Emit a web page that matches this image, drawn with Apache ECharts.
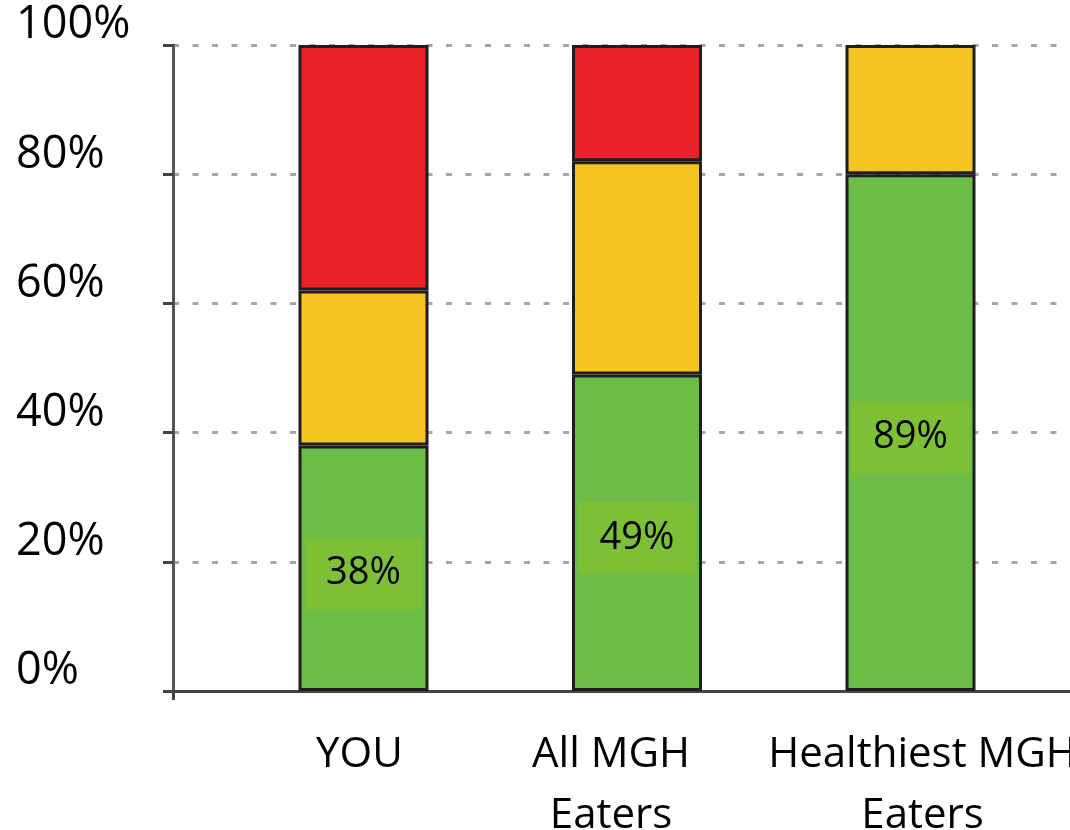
<!DOCTYPE html>
<html>
<head>
<meta charset="utf-8">
<script src="https://cdn.jsdelivr.net/npm/echarts@6/dist/echarts.min.js"></script>
<style>
  html, body { margin: 0; padding: 0; background: #ffffff; }
  #chart { width: 1070px; height: 830px; }
</style>
</head>
<body>
<div id="chart"></div>
<script>
// Groups compared
const categories = ['YOU', 'All MGH\nEaters', 'Healthiest MGH\nEaters'];
// Share of meals per colour rating (percent, stacked bottom to top)
const greenShare  = [38, 49, 80];
const yellowShare = [24, 33, 20];
const redShare    = [38, 18, 0];
// Score printed on each green segment
const scores = [38, 49, 89];
// Y axis ticks
const yTicks = [0, 20, 40, 60, 80, 100];

const FONT = 'Open Sans';
const GREEN = '#6cbd45';
const YELLOW = '#f5c423';
const RED = '#ec2028';
const OUTLINE = '#1e1e1e';

// small horizontal nudges for the category captions
const captionShift = [-4, -26, 12];

const chart = echarts.init(document.getElementById('chart'), null, { renderer: 'canvas' });

const barItem = (color) => ({ color: color, borderColor: OUTLINE, borderWidth: 3 });

const option = {
  backgroundColor: '#ffffff',
  animation: false,
  grid: [
    // frame: axis lines, ticks and dotted guides
    { left: 173, right: -40, top: 45, bottom: 139, outerBoundsMode: 'none', containLabel: false },
    // bars
    { left: 226.75, right: 22.75, top: 45, bottom: 139, outerBoundsMode: 'none', containLabel: false }
  ],
  xAxis: [
    {
      gridIndex: 0, type: 'value', min: 0, max: 1, interval: 1,
      axisLine: { show: true, lineStyle: { color: '#444', width: 3 } },
      axisTick: { show: true, length: 9, lineStyle: { color: '#444', width: 3 } },
      axisLabel: { show: false },
      splitLine: { show: false }
    },
    {
      gridIndex: 1, type: 'category',
      data: categories.map((c, i) => ({
        value: c,
        textStyle: {
          padding: captionShift[i] < 0 ? [0, -2 * captionShift[i], 0, 0] : [0, 0, 0, 2 * captionShift[i]]
        }
      })),
      axisLine: { show: false },
      axisTick: { show: false },
      axisLabel: {
        interval: 0, margin: 34,
        fontFamily: FONT, fontSize: 42, lineHeight: 61, color: '#000'
      }
    }
  ],
  yAxis: [
    {
      gridIndex: 0, type: 'value', min: yTicks[0], max: yTicks[yTicks.length - 1],
      interval: yTicks[1] - yTicks[0],
      axisLine: { show: true, lineStyle: { color: '#555', width: 3 } },
      axisTick: { show: true, length: 10, lineStyle: { color: '#444', width: 3 } },
      axisLabel: {
        formatter: '{value}%', align: 'left', verticalAlign: 'bottom', margin: 157,
        fontFamily: FONT, fontSize: 45, lineHeight: 39, color: '#000'
      },
      splitLine: { show: true, lineStyle: { color: '#a6a6a6', width: 3, type: [6, 13.5] } }
    },
    {
      gridIndex: 1, type: 'value', min: 0, max: 100, show: false
    }
  ],
  series: [
    {
      name: 'Green', type: 'bar', stack: 'rating', xAxisIndex: 1, yAxisIndex: 1,
      barWidth: 130, data: greenShare, itemStyle: barItem(GREEN),
      label: {
        show: true, position: 'inside', offset: [0, 5],
        formatter: (p) => scores[p.dataIndex] + '%',
        fontFamily: FONT, fontSize: 38, lineHeight: 36, color: '#000',
        backgroundColor: '#7dc035', padding: [18, 21]
      }
    },
    {
      name: 'Yellow', type: 'bar', stack: 'rating', xAxisIndex: 1, yAxisIndex: 1,
      barWidth: 130, data: yellowShare, itemStyle: barItem(YELLOW)
    },
    {
      name: 'Red', type: 'bar', stack: 'rating', xAxisIndex: 1, yAxisIndex: 1,
      barWidth: 130, data: redShare.map(v => (v === 0 ? '-' : v)), itemStyle: barItem(RED)
    }
  ]
};

chart.setOption(option);
</script>
</body>
</html>
